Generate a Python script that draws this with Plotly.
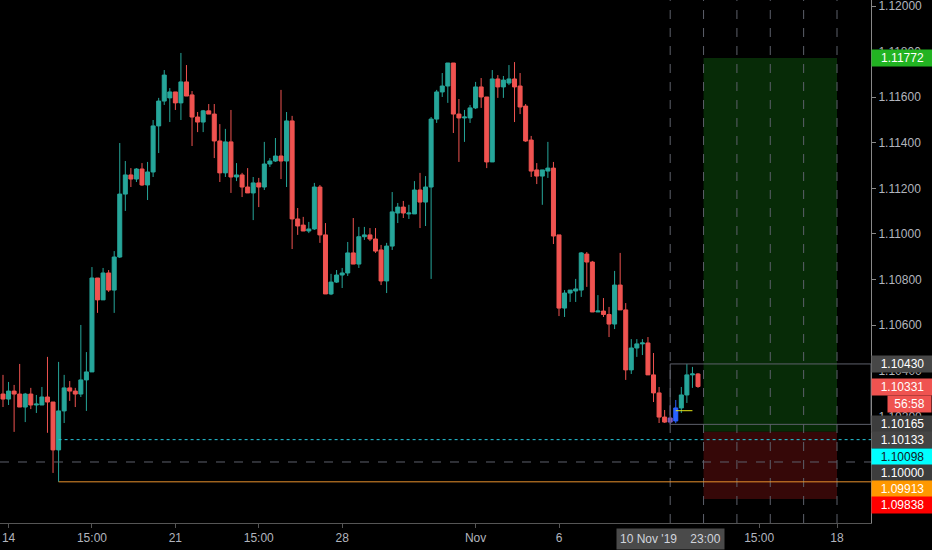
import plotly.graph_objects as go

# EURUSD 4H candles (oldest first)
opens = [1.10298, 1.10276, 1.10311, 1.10298, 1.10241, 1.10298, 1.10250, 1.10250, 1.10285, 1.10263,
         1.10053, 1.10224, 1.10325, 1.10311, 1.10298, 1.10360, 1.10395, 1.10807, 1.10711, 1.10829,
         1.10754, 1.10899, 1.11175, 1.11259, 1.11241, 1.11285, 1.11215, 1.11272, 1.11474, 1.11583,
         1.11597, 1.11623, 1.11575, 1.11667, 1.11610, 1.11513, 1.11491, 1.11540, 1.11526, 1.11408,
         1.11268, 1.11404, 1.11250, 1.11259, 1.11206, 1.11180, 1.11224, 1.11206, 1.11307, 1.11320,
         1.11342, 1.11320, 1.11496, 1.11066, 1.11039, 1.11013, 1.11022, 1.11206, 1.10996, 1.10737,
         1.10789, 1.10820, 1.10829, 1.10917, 1.10868, 1.10988, 1.10996, 1.10978, 1.10930, 1.10794,
         1.10947, 1.11092, 1.11118, 1.11088, 1.11088, 1.11193, 1.11140, 1.11206, 1.11504, 1.11623,
         1.11649, 1.11750, 1.11526, 1.11509, 1.11509, 1.11553, 1.11645, 1.11601, 1.11316, 1.11680,
         1.11645, 1.11662, 1.11680, 1.11649, 1.11561, 1.11412, 1.11281, 1.11254, 1.11276, 1.11289,
         1.10996, 1.10675, 1.10741, 1.10750, 1.10754, 1.10912, 1.10877, 1.10658, 1.10662, 1.10647,
         1.10605, 1.10776, 1.10667, 1.10404, 1.10500, 1.10518, 1.10522, 1.10382, 1.10303, 1.10197,
         1.10175, 1.10180, 1.10237, 1.10294, 1.10382, 1.10386]
highs = [1.10382, 1.10351, 1.10338, 1.10430, 1.10303, 1.10325, 1.10294, 1.10329, 1.10461, 1.10263,
         1.10439, 1.10382, 1.10355, 1.10325, 1.10601, 1.10482, 1.10855, 1.10807, 1.10851, 1.10842,
         1.10925, 1.11399, 1.11320, 1.11289, 1.11289, 1.11311, 1.11316, 1.11500, 1.11597, 1.11719,
         1.11640, 1.11623, 1.11794, 1.11741, 1.11627, 1.11535, 1.11544, 1.11570, 1.11570, 1.11482,
         1.11461, 1.11544, 1.11311, 1.11268, 1.11289, 1.11250, 1.11246, 1.11404, 1.11333, 1.11421,
         1.11632, 1.11535, 1.11518, 1.11114, 1.11075, 1.11053, 1.11224, 1.11215, 1.11048, 1.10825,
         1.10842, 1.10851, 1.10965, 1.11070, 1.11031, 1.11031, 1.11026, 1.11026, 1.10952, 1.10961,
         1.11184, 1.11136, 1.11145, 1.11128, 1.11232, 1.11268, 1.11254, 1.11513, 1.11632, 1.11706,
         1.11750, 1.11750, 1.11592, 1.11544, 1.11566, 1.11667, 1.11684, 1.11601, 1.11719, 1.11697,
         1.11693, 1.11741, 1.11754, 1.11706, 1.11570, 1.11430, 1.11311, 1.11281, 1.11404, 1.11316,
         1.10996, 1.10754, 1.10754, 1.10803, 1.10921, 1.10921, 1.10882, 1.10732, 1.10719, 1.10680,
         1.10838, 1.10917, 1.10697, 1.10539, 1.10539, 1.10539, 1.10548, 1.10478, 1.10329, 1.10228,
         1.10250, 1.10272, 1.10329, 1.10430, 1.10417, 1.10390]
lows = [1.10241, 1.10250, 1.10132, 1.10241, 1.10175, 1.10232, 1.10215, 1.10250, 1.10128, 1.09952,
        1.09913, 1.10171, 1.10268, 1.10241, 1.10285, 1.10224, 1.10395, 1.10654, 1.10711, 1.10746,
        1.10654, 1.10895, 1.11101, 1.11206, 1.11228, 1.11211, 1.11149, 1.11250, 1.11355, 1.11566,
        1.11491, 1.11544, 1.11500, 1.11605, 1.11386, 1.11447, 1.11447, 1.11526, 1.11333, 1.11228,
        1.11250, 1.11180, 1.11232, 1.11162, 1.11180, 1.11061, 1.11118, 1.11193, 1.11294, 1.11316,
        1.11241, 1.11206, 1.10934, 1.10996, 1.11013, 1.11004, 1.11018, 1.10961, 1.10737, 1.10732,
        1.10785, 1.10763, 1.10816, 1.10868, 1.10851, 1.10974, 1.10969, 1.10917, 1.10776, 1.10741,
        1.10930, 1.11048, 1.11070, 1.11066, 1.11088, 1.11026, 1.11035, 1.10803, 1.11487, 1.11601,
        1.11575, 1.11443, 1.11316, 1.11404, 1.11487, 1.11548, 1.11553, 1.11289, 1.11316, 1.11597,
        1.11597, 1.11653, 1.11491, 1.11526, 1.11404, 1.11250, 1.11219, 1.11128, 1.11246, 1.10956,
        1.10640, 1.10636, 1.10702, 1.10702, 1.10724, 1.10768, 1.10658, 1.10658, 1.10636, 1.10548,
        1.10583, 1.10667, 1.10360, 1.10386, 1.10461, 1.10469, 1.10382, 1.10263, 1.10171, 1.10171,
        1.10165, 1.10170, 1.10215, 1.10259, 1.10325, 1.10325]
closes = [1.10276, 1.10311, 1.10298, 1.10241, 1.10298, 1.10250, 1.10254, 1.10285, 1.10263, 1.10053,
          1.10224, 1.10325, 1.10311, 1.10298, 1.10360, 1.10395, 1.10807, 1.10711, 1.10829, 1.10754,
          1.10899, 1.11175, 1.11259, 1.11241, 1.11285, 1.11215, 1.11272, 1.11474, 1.11583, 1.11697,
          1.11623, 1.11575, 1.11667, 1.11605, 1.11513, 1.11491, 1.11540, 1.11526, 1.11408, 1.11268,
          1.11404, 1.11250, 1.11259, 1.11206, 1.11180, 1.11224, 1.11206, 1.11307, 1.11320, 1.11342,
          1.11320, 1.11496, 1.11066, 1.11035, 1.11013, 1.11022, 1.11206, 1.10996, 1.10737, 1.10789,
          1.10820, 1.10829, 1.10917, 1.10868, 1.10988, 1.10996, 1.10978, 1.10925, 1.10794, 1.10947,
          1.11097, 1.11118, 1.11092, 1.11092, 1.11193, 1.11140, 1.11206, 1.11504, 1.11623, 1.11649,
          1.11750, 1.11526, 1.11509, 1.11513, 1.11553, 1.11645, 1.11601, 1.11316, 1.11680, 1.11645,
          1.11675, 1.11680, 1.11645, 1.11557, 1.11408, 1.11276, 1.11254, 1.11281, 1.11289, 1.10991,
          1.10675, 1.10741, 1.10754, 1.10759, 1.10917, 1.10877, 1.10658, 1.10662, 1.10647, 1.10605,
          1.10776, 1.10667, 1.10404, 1.10500, 1.10518, 1.10522, 1.10382, 1.10303, 1.10197, 1.10175,
          1.10193, 1.10237, 1.10294, 1.10382, 1.10386, 1.10331]

# two candles highlighted on the chart (bar index -> colour)
highlight = {120: "#7e57c2", 121: "#2962ff"}

# x axis labels (bar index positions)
tick_bars = [1, 16, 31, 46, 61, 85, 100, 136, 150]
tick_text = ["14", "15:00", "21", "15:00", "28", "Nov", "6", "15:00", "18"]
crosshair_bar = 120
crosshair_text = "10 Nov '19&nbsp;&nbsp;&nbsp;&nbsp;23:00"
day_lines = [120, 126, 132, 138, 144, 150]

# drawings
swing_bar = 10
level_round = 1.10000
level_cyan = 1.10098
level_orange = 1.09913
range_top = 1.10430
range_bottom = 1.10165
yellow_level = 1.10225
yellow_bars = [121, 124]
entry = 1.10133
target = 1.11772
stop = 1.09838
pos_bars = [126, 150]
countdown = "56:58"

GREEN = "#26a69a"
RED = "#ef5350"
GRID = "#5d606b"

bar_px = 5.56
x_lo = -3 / bar_px
x_hi = x_lo + 871 / bar_px
y_hi = 1.120263
y_lo = 1.097324

n = len(opens)
xs = list(range(n))
normal = [i for i in xs if i not in highlight]

fig = go.Figure()
fig.add_trace(go.Candlestick(
    x=normal,
    open=[opens[i] for i in normal], high=[highs[i] for i in normal],
    low=[lows[i] for i in normal], close=[closes[i] for i in normal],
    increasing=dict(line=dict(color=GREEN, width=1), fillcolor=GREEN),
    decreasing=dict(line=dict(color=RED, width=1), fillcolor=RED),
    whiskerwidth=0, hoverinfo="skip"))
for i, col in highlight.items():
    fig.add_trace(go.Candlestick(
        x=[i], open=[opens[i]], high=[highs[i]], low=[lows[i]], close=[closes[i]],
        increasing=dict(line=dict(color=col, width=1), fillcolor=col),
        decreasing=dict(line=dict(color=col, width=1), fillcolor=col),
        whiskerwidth=0, hoverinfo="skip"))

shapes = []
# position tool: profit / loss zones
shapes.append(dict(type="rect", xref="x", yref="y", x0=pos_bars[0], x1=pos_bars[1],
                   y0=entry, y1=target, fillcolor="#072b07", line=dict(width=0), layer="below"))
shapes.append(dict(type="rect", xref="x", yref="y", x0=pos_bars[0], x1=pos_bars[1],
                   y0=stop, y1=entry, fillcolor="#360808", line=dict(width=0), layer="below"))
# daily vertical dashed lines
for b in day_lines:
    shapes.append(dict(type="line", xref="x", yref="paper", x0=b, x1=b, y0=0, y1=1,
                       line=dict(color=GRID, width=1, dash="dash")))
# horizontal levels
shapes.append(dict(type="line", xref="x", yref="y", x0=x_lo, x1=x_hi, y0=level_round, y1=level_round,
                   line=dict(color=GRID, width=1, dash="dash")))
shapes.append(dict(type="line", xref="x", yref="y", x0=swing_bar, x1=x_hi, y0=level_cyan, y1=level_cyan,
                   line=dict(color="#26c6da", width=1, dash="dot")))
shapes.append(dict(type="line", xref="x", yref="y", x0=swing_bar, x1=x_hi, y0=level_orange, y1=level_orange,
                   line=dict(color="#e8912d", width=1)))
shapes.append(dict(type="rect", xref="x", yref="y", x0=crosshair_bar, x1=x_hi, y0=range_bottom, y1=range_top,
                   line=dict(color=GRID, width=1)))
shapes.append(dict(type="line", xref="x", yref="y", x0=yellow_bars[0], x1=yellow_bars[1],
                   y0=yellow_level, y1=yellow_level, line=dict(color="#e6e619", width=1)))

# price tags on the right scale: (price, background, text colour, vertical shift)
tags = [
    (target, "#22b322", "#ffffff", 0),
    (range_top, "#474747", "#ffffff", 0),
    (closes[-1], RED, "#ffffff", 0),
    (range_bottom, "#3d3d3d", "#ffffff", 0),
    (entry, "#444444", "#ffffff", -8),
    (level_cyan, "#00ffff", "#131722", -17),
    (level_round, "#3d3d3d", "#ffffff", -11),
    (level_orange, "#ff9800", "#ffffff", -7),
    (stop, "#ff0000", "#ffffff", -6),
]
annotations = []
for price, bg, fg, shift in tags:
    annotations.append(dict(xref="paper", yref="y", x=1, y=price, xanchor="left", yanchor="middle",
                            yshift=shift, text=f"{price:.5f}", showarrow=False, bgcolor=bg,
                            font=dict(color=fg, size=12), width=59, height=14, borderpad=1,
                            align="center"))
annotations.append(dict(xref="paper", yref="y", x=1 + 61 / 871, y=closes[-1], xanchor="right",
                        yanchor="middle", yshift=-17, text=countdown, showarrow=False, bgcolor=RED,
                        font=dict(color="#ffffff", size=12), width=41, height=14, borderpad=1))
annotations.append(dict(xref="x", yref="paper", x=crosshair_bar, y=0, xanchor="center", yanchor="top",
                        yshift=-5, text=crosshair_text, showarrow=False, bgcolor="#4a4a4a",
                        font=dict(color="#d1d4dc", size=12), borderpad=3))

fig.update_layout(
    width=932, height=550,
    margin=dict(l=0, r=61, t=0, b=27),
    paper_bgcolor="#000000", plot_bgcolor="#000000",
    showlegend=False,
    boxgap=0.1, boxgroupgap=0.2,
    font=dict(family="Liberation Sans, Arial, sans-serif", size=12, color="#b2b5be"),
    shapes=shapes, annotations=annotations,
    xaxis=dict(range=[x_lo, x_hi], tickmode="array", tickvals=tick_bars, ticktext=tick_text,
               showgrid=False, zeroline=False, showline=True, linecolor="#555555",
               ticks="outside", ticklen=4, tickcolor="#555555", rangeslider=dict(visible=False),
               automargin=False),
    yaxis=dict(side="right", range=[y_lo, y_hi], tick0=1.1, dtick=0.002, tickformat=".5f",
               showgrid=False, zeroline=False, showline=True, linecolor="#888888",
               ticks="outside", ticklen=4, tickcolor="#888888", automargin=False,
               ticklabeloverflow="allow"),
)

# page body has a default 8px margin; drop it so the chart fills the window
fig.write_html("out.html", config={"displayModeBar": False},
               post_script="document.body.style.margin='0';document.body.style.background='#000';")
